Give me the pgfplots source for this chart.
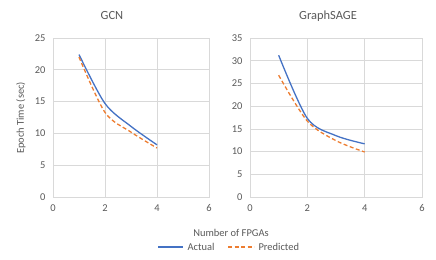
\documentclass[border=0pt]{standalone}
\usepackage{fontspec}
\setmainfont{Carlito}
\usepackage{pgfplots}
\pgfplotsset{compat=1.18}
\definecolor{txt}{HTML}{595959}
\definecolor{grd}{HTML}{D9D9D9}
\definecolor{cblue}{HTML}{4472C4}
\definecolor{corange}{HTML}{ED7D31}
\pgfplotsset{
  mystyle/.style={
    scale only axis,
    height=159bp,
    xmin=0, xmax=6, ymin=0,
    xtick={0,2,4,6},
    grid=major,
    major grid style={grd, line width=0.6bp},
    axis line style={grd, line width=0.6bp},
    tick style={draw=none},
    tick label style={font=\fontsize{10.5}{12}\selectfont, text=txt},
    /pgf/number format/assume math mode=true,
    yticklabel style={xshift=-4bp},
    xticklabel style={yshift=-4bp},
  },
  actual/.style={cblue, line width=1.3bp, smooth, tension=0.5},
  pred/.style={corange, line width=1.3bp, smooth, tension=0.5, dash pattern=on 4bp off 2.5bp},
}
\begin{document}
\begin{tikzpicture}
\path[use as bounding box] (0,0) rectangle (436bp,260bp);
\begin{axis}[mystyle, at={(53bp,63bp)}, anchor=south west, width=156bp,
  ymax=25, ytick={0,5,10,15,20,25}]
\addplot[actual] coordinates {(1,22.4) (2,14.7) (3,11.1) (4,8.2)};
\addplot[pred] coordinates {(1,22.0) (2,13.3) (3,10.2) (4,7.7)};
\end{axis}
\begin{axis}[mystyle, at={(250bp,63bp)}, anchor=south west, width=172bp,
  ymax=35, ytick={0,5,10,15,20,25,30,35}]
\addplot[actual] coordinates {(1,31.2) (2,17.3) (3,13.5) (4,11.7)};
\addplot[pred] coordinates {(1,26.8) (2,16.7) (3,12.4) (4,9.9)};
\end{axis}
\node[font=\fontsize{12.5}{14}\selectfont, text=txt] at (112bp,244bp) {GCN};
\node[font=\fontsize{12.5}{14}\selectfont, text=txt] at (328bp,244bp) {GraphSAGE};
\node[font=\fontsize{10.5}{12}\selectfont, text=txt, rotate=90] at (21bp,142bp) {Epoch Time (sec)};
\node[font=\fontsize{10.5}{12}\selectfont, text=txt] at (231bp,27bp) {Number of FPGAs};
\draw[cblue, line width=1.3bp] (158bp,13bp) -- (183bp,13bp);
\node[font=\fontsize{10.5}{12}\selectfont, text=txt, anchor=west] at (184bp,13bp) {Actual};
\draw[corange, line width=1.3bp, dash pattern=on 4bp off 2.5bp] (228bp,13bp) -- (254bp,13bp);
\node[font=\fontsize{10.5}{12}\selectfont, text=txt, anchor=west] at (255bp,13bp) {Predicted};
\end{tikzpicture}
\end{document}
